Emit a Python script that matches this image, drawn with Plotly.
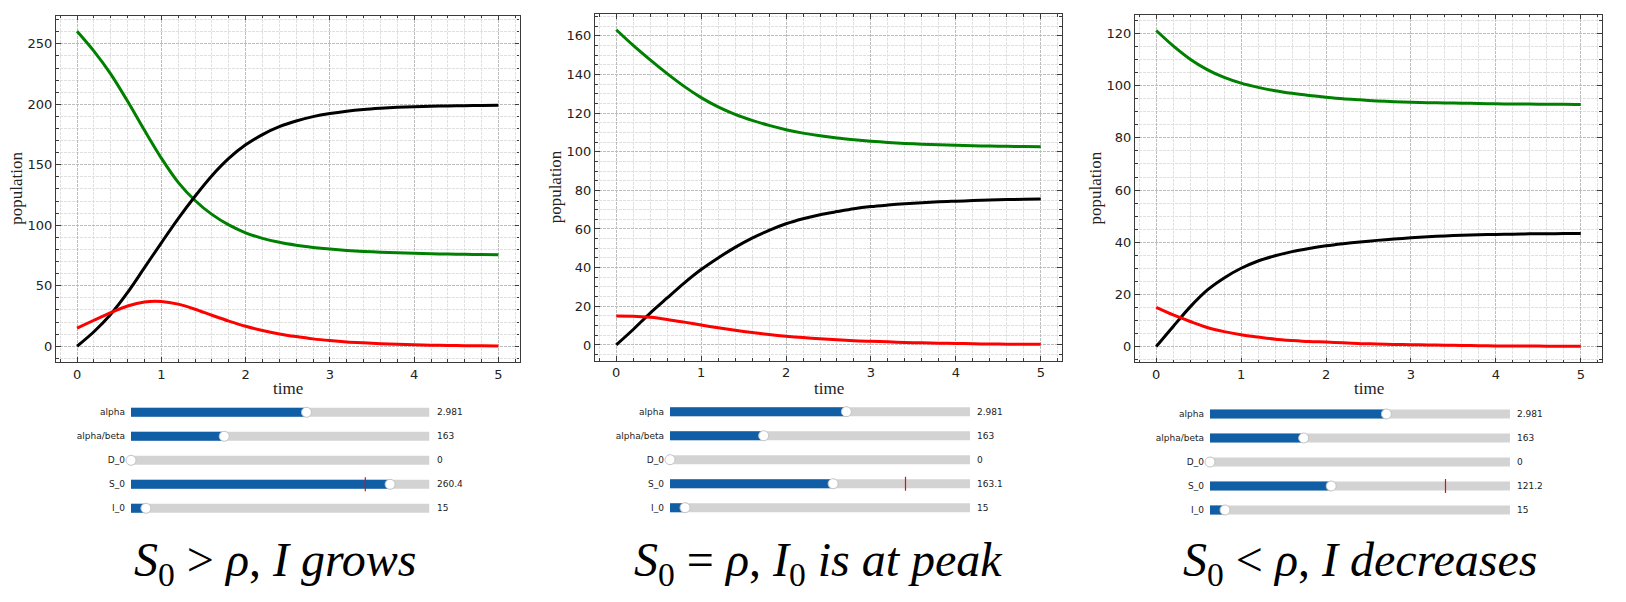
import plotly.graph_objects as go

W, H = 1626, 602

# time samples (every 0.2)
time = [0.0, 0.2, 0.4, 0.6, 0.8, 1.0, 1.2, 1.4, 1.6, 1.8, 2.0, 2.2, 2.4,
        2.6, 2.8, 3.0, 3.2, 3.4, 3.6, 3.8, 4.0, 4.2, 4.4, 4.6, 4.8, 5.0]

# S_0 > rho
s_grow = [260.4, 244.0, 225.0, 202.5, 178.5, 155.5, 135.5, 120.5, 109.0, 100.3, 93.8, 89.2, 85.9,
          83.5, 81.7, 80.3, 79.2, 78.4, 77.8, 77.3, 76.9, 76.5, 76.2, 76.0, 75.8, 75.6]
i_grow = [15.0, 21.5, 27.8, 33.3, 36.6, 37.0, 34.8, 30.6, 25.6, 20.8, 16.5, 13.0, 10.2,
          8.0, 6.1, 4.7, 3.6, 2.8, 2.1, 1.6, 1.2, 0.9, 0.7, 0.5, 0.4, 0.3]
d_grow = [0.0, 12.0, 26.5, 44.5, 65.0, 85.5, 105.5, 124.0, 141.0, 155.3, 166.5, 175.0, 181.5,
          186.2, 189.8, 192.4, 194.3, 195.7, 196.7, 197.5, 198.0, 198.4, 198.7, 198.9, 199.1, 199.2]

# S_0 = rho
s_peak = [163.1, 155.0, 147.5, 140.4, 133.8, 128.0, 123.2, 119.3, 116.2, 113.6, 111.4, 109.6, 108.2,
          107.1, 106.2, 105.4, 104.8, 104.3, 103.9, 103.6, 103.3, 103.1, 102.9, 102.8, 102.7, 102.6]
i_peak = [15.0, 14.9, 14.3, 13.2, 11.8, 10.3, 8.9, 7.6, 6.4, 5.4, 4.5, 3.8, 3.2,
          2.7, 2.2, 1.9, 1.6, 1.3, 1.1, 0.9, 0.8, 0.6, 0.5, 0.4, 0.4, 0.3]
d_peak = [0.0, 8.0, 16.5, 24.3, 32.0, 39.0, 45.0, 50.5, 55.3, 59.3, 62.7, 65.3, 67.4,
          69.0, 70.5, 71.6, 72.4, 73.1, 73.6, 74.1, 74.4, 74.7, 75.0, 75.2, 75.4, 75.5]

# S_0 < rho
s_decr = [121.2, 115.3, 110.2, 106.2, 103.2, 101.0, 99.4, 98.1, 97.1, 96.3, 95.6, 95.0, 94.6,
          94.2, 93.9, 93.7, 93.5, 93.4, 93.3, 93.2, 93.1, 93.0, 93.0, 92.9, 92.9, 92.8]
i_decr = [15.0, 12.1, 9.6, 7.3, 5.7, 4.5, 3.6, 2.8, 2.3, 1.9, 1.7, 1.4, 1.1,
          1.0, 0.8, 0.7, 0.6, 0.5, 0.4, 0.3, 0.2, 0.2, 0.2, 0.1, 0.1, 0.1]
d_decr = [0.0, 7.7, 15.2, 21.6, 26.3, 30.0, 32.8, 34.8, 36.4, 37.6, 38.6, 39.4, 40.1,
          40.7, 41.2, 41.7, 42.1, 42.4, 42.7, 42.9, 43.0, 43.1, 43.2, 43.2, 43.3, 43.3]

# slider widgets
slider_names = ["alpha", "alpha/beta", "D_0", "S_0", "I_0"]
slider_lo = [0.1, 10, 0, 0, 0]
slider_hi = [5, 500, 300, 300, 300]
alpha = 2.981
rho = 163
d0 = 0
i0 = 15
s0_values = [260.4, 163.1, 121.2]
s0_init = 235.5

captions = [
    "<i>S</i><sub>0</sub> &gt; <i>ρ</i>, <i>I grows</i>",
    "<i>S</i><sub>0</sub> = <i>ρ</i>, <i>I</i><sub>0</sub> <i>is at peak</i>",
    "<i>S</i><sub>0</sub> &lt; <i>ρ</i>, <i>I decreases</i>",
]

series = [(s_grow, i_grow, d_grow), (s_peak, i_peak, d_peak), (s_decr, i_decr, d_decr)]

# pixel boxes: (left, right, top, bottom)
plot_box = [(56, 519.5, 15.5, 362), (595, 1062, 14, 360.7), (1135, 1602, 14.7, 362.3)]
slider_box = [(131, 429.5, 400.3, 520.3), (670, 970, 399.7, 519.7), (1210, 1510, 402, 522)]
ylabel_x = [17, 555, 1095]
caption_x = [275, 819, 1360]
ydticks = [50, 20, 20]
yminor = [10, 5, 5]


def dom_x(a, b):
    return [a / W, b / W]


def dom_y(top, bottom):
    return [1 - bottom / H, 1 - top / H]


fig = go.Figure()
annotations = []
serif = "Liberation Serif"
frame = "#3a3a3a"

for k in range(3):
    s, i, d = series[k]
    xa = "x" if k == 0 else "x%d" % (2 * k + 1)
    ya = "y" if k == 0 else "y%d" % (2 * k + 1)
    xs = "x%d" % (2 * k + 2)
    ys = "y%d" % (2 * k + 2)

    for vals, col in [(s, "green"), (d, "black"), (i, "red")]:
        fig.add_trace(go.Scatter(x=time, y=vals, mode="lines",
                                 line=dict(color=col, width=3, shape="spline", smoothing=0.8),
                                 xaxis=xa, yaxis=ya, hoverinfo="skip"))

    allv = s + i + d
    lo, hi = min(allv), max(allv)
    pad = 0.05 * (hi - lo)
    l, r, t, b = plot_box[k]

    axis_common = dict(showline=True, linecolor=frame, linewidth=1.2, mirror="allticks",
                       ticks="inside", ticklen=4.5, tickwidth=1, tickcolor=frame,
                       showgrid=True, gridcolor="#bdbdbd", gridwidth=0.8, griddash="3px,1px",
                       zeroline=False,
                       tickfont=dict(family="DejaVu Sans", size=13, color="#222"))
    minor_common = dict(ticks="inside", ticklen=2.5, tick0=0, tickcolor=frame,
                        showgrid=True, gridcolor="#e0e0e0", gridwidth=0.8, griddash="3px,1px")
    fig.layout["xaxis" if k == 0 else "xaxis%d" % (2 * k + 1)] = dict(
        axis_common, domain=dom_x(l, r), range=[-0.25, 5.25], anchor=ya,
        tick0=0, dtick=1, minor=dict(minor_common, dtick=0.2))
    fig.layout["yaxis" if k == 0 else "yaxis%d" % (2 * k + 1)] = dict(
        axis_common, domain=dom_y(t, b), range=[lo - pad, hi + pad], anchor=xa,
        tick0=0, dtick=ydticks[k], minor=dict(minor_common, dtick=yminor[k]))

    annotations.append(dict(text="time", x=(l + r) / 2 / W, y=1 - 388 / H, xref="paper", yref="paper",
                            showarrow=False, xanchor="center", yanchor="middle",
                            font=dict(family=serif, size=17, color="#222")))
    annotations.append(dict(text="population", x=ylabel_x[k] / W, y=1 - (t + b) / 2 / H,
                            xref="paper", yref="paper", textangle=-90, showarrow=False,
                            xanchor="center", yanchor="middle",
                            font=dict(family=serif, size=17, color="#222")))

    # slider block
    values = [alpha, rho, d0, s0_values[k], i0]
    labels = ["%.3f" % alpha, str(rho), str(d0), "%.1f" % s0_values[k], str(i0)]
    rows = list(range(len(slider_names)))
    frac = [(v - a) / (z - a) for v, a, z in zip(values, slider_lo, slider_hi)]
    fig.add_trace(go.Bar(x=[1] * len(rows), y=rows, orientation="h", width=0.38,
                         marker=dict(color="#d3d3d3", line_width=0), xaxis=xs, yaxis=ys,
                         hoverinfo="skip"))
    fig.add_trace(go.Bar(x=frac, y=rows, orientation="h", width=0.38,
                         marker=dict(color="#0f5ea6", line_width=0), xaxis=xs, yaxis=ys,
                         hoverinfo="skip"))
    init_frac = (s0_init - slider_lo[3]) / (slider_hi[3] - slider_lo[3])
    fig.add_trace(go.Scatter(x=[init_frac], y=[3], mode="markers", xaxis=xs, yaxis=ys,
                             marker=dict(symbol="line-ns", size=10, line=dict(color="red", width=1.2)),
                             hoverinfo="skip"))
    fig.add_trace(go.Scatter(x=frac, y=rows, mode="markers", xaxis=xs, yaxis=ys, cliponaxis=False,
                             marker=dict(size=10, color="white", line=dict(color="#c4c4c4", width=1)),
                             hoverinfo="skip"))
    for row, lab in zip(rows, labels):
        annotations.append(dict(text=lab, x=1, y=row, xref=xs, yref=ys, xanchor="left",
                                yanchor="middle", xshift=5, showarrow=False,
                                font=dict(family="DejaVu Sans", size=9, color="#222")))
    sl, sr, st, sb = slider_box[k]
    fig.layout["xaxis%d" % (2 * k + 2)] = dict(domain=dom_x(sl, sr), range=[0, 1], visible=False,
                                               anchor=ys, fixedrange=True)
    fig.layout["yaxis%d" % (2 * k + 2)] = dict(domain=dom_y(st, sb), range=[4.5, -0.5], anchor=xs,
                                               tickvals=rows, ticktext=slider_names, ticks="",
                                               showgrid=False, zeroline=False, showline=False,
                                               ticklabelstandoff=5,
                                               tickfont=dict(family="DejaVu Sans", size=9,
                                                             color="#222"))

    annotations.append(dict(text=captions[k], x=caption_x[k] / W, y=1 - 563 / H,
                            xref="paper", yref="paper", showarrow=False,
                            xanchor="center", yanchor="middle",
                            font=dict(family=serif, size=48, color="black")))

fig.update_layout(
    width=W,
    height=H,
    margin=dict(l=0, r=0, t=0, b=0),
    plot_bgcolor="white",
    paper_bgcolor="white",
    showlegend=False,
    barmode="overlay",
    annotations=annotations,
)

# the page body has a default 8px margin; drop it so the figure sits at the window corner
fig.write_html("out.html",
               config={"displayModeBar": False},
               post_script="document.body.style.margin='0px'; document.body.style.overflow='hidden';")
